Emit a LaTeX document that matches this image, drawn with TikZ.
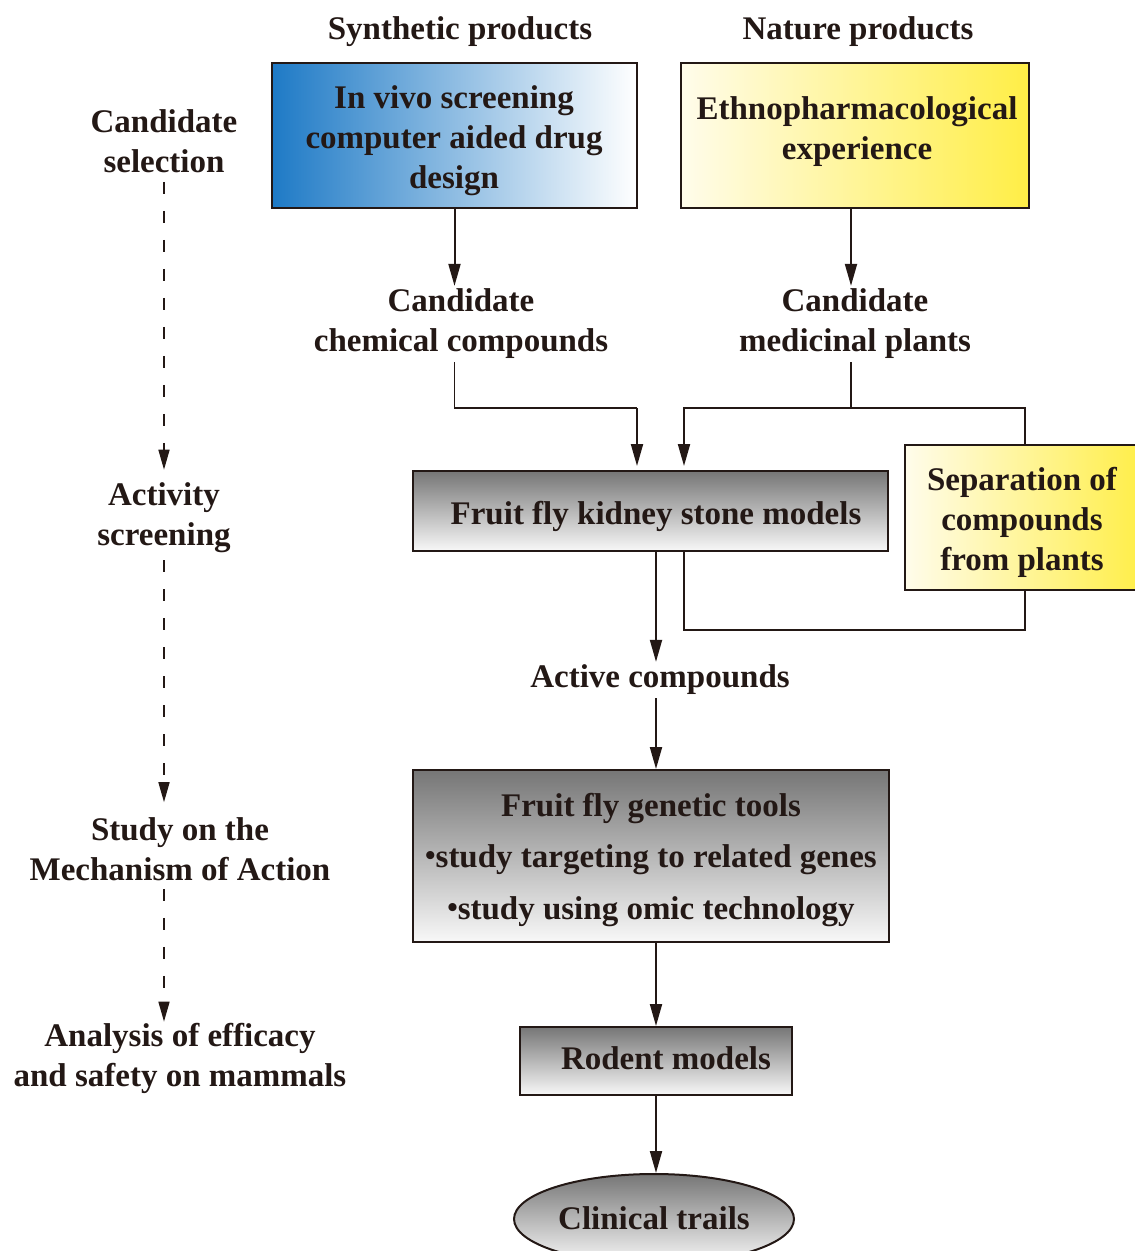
\documentclass[tikz,border=0pt]{standalone}
\usepackage{fontspec}
\setmainfont{Liberation Serif}
\usetikzlibrary{arrows.meta,shapes.geometric,calc}
\definecolor{txt}{RGB}{35,24,21}
\definecolor{bluel}{RGB}{30,122,198}
\definecolor{yell}{RGB}{255,238,70}
\definecolor{yelw}{RGB}{255,252,235}
\definecolor{grayd}{RGB}{118,118,118}
\definecolor{grayl}{RGB}{248,248,248}
\newcommand{\bul}{{\fontsize{30}{30}\selectfont\raisebox{2pt}{•}}}
\begin{document}
\begin{tikzpicture}[x=1pt,y=-1pt,
  font=\fontsize{33}{40}\selectfont\bfseries,
  lbl/.style={text=txt, align=center, inner sep=3pt},
  box/.style={draw=txt, line width=2pt, inner sep=0pt},
  bluebox/.style={box, left color=bluel, right color=white},
  yelbox/.style={box, left color=yelw, right color=yell},
  graybox/.style={box, top color=grayd, bottom color=grayl},
  arr/.style={draw=txt, line width=2pt, -{Triangle[length=22pt,width=12pt]}},
  ln/.style={draw=txt, line width=1.8pt},
  dsh/.style={draw=txt, line width=1.6pt, dash pattern=on 12pt off 17pt, -{Triangle[length=20pt,width=11pt]}}
]
\useasboundingbox (0,0) rectangle (1135,1251);

% headings
\node[lbl] (syn) at (460,32) {Synthetic products};
\node[lbl] (nat) at (858,32) {Nature products};

% top boxes
\node[bluebox, minimum width=365pt, minimum height=145pt] (invivo) at (454.5,135.5) {};
\node[lbl] (invivo-t) at (454,141) {In vivo screening\\computer aided drug\\design};
\node[yelbox, minimum width=348pt, minimum height=145pt] (ethno) at (855,135.5) {};
\node[lbl] (ethno-t) at (857,132) {Ethnopharmacological\\experience};

% candidates
\node[lbl] (cand1) at (461,324) {Candidate\\chemical compounds};
\node[lbl] (cand2) at (855,324) {Candidate\\medicinal plants};

% middle boxes
\node[graybox, minimum width=475pt, minimum height=80pt] (kidney) at (650.5,511) {};
\node[lbl] (kidney-t) at (656,516) {Fruit fly kidney stone models};
\node[yelbox, minimum width=240pt, minimum height=145pt] (sep) at (1025,517.5) {};
\node[lbl] (sep-t) at (1022,522) {Separation of\\compounds\\from plants};

\node[lbl] (active) at (660,680) {Active compounds};

\node[graybox, minimum width=476pt, minimum height=172pt] (genetic) at (651,856) {};
\node[lbl] (genetic-t) at (651,860)
  {Fruit fly genetic tools\\[11pt]\bul study targeting to related genes\\[12pt]\bul study using omic technology};

\node[graybox, minimum width=272pt, minimum height=68pt] (rodent) at (656,1061) {};
\node[lbl] (rodent-t) at (666,1058) {Rodent models};

\node[graybox, ellipse, minimum width=280pt, minimum height=90pt, inner sep=0pt] (clinical) at (654,1219) {};
\node[lbl] (clinical-t) at (654,1218) {Clinical trails};

% left stage labels
\node[lbl] (cs) at (164,141) {Candidate\\selection};
\node[lbl] (as) at (164,518) {Activity\\screening};
\node[lbl] (sm) at (180,849) {Study on the\\Mechanism of Action};
\node[lbl] (an) at (180,1058) {Analysis of efficacy\\and safety on mammals};

% helper coordinates
\coordinate (j1) at (637,408);
\coordinate (j2) at (851,408);
\coordinate (j4) at (684,408);
\coordinate (j5) at (1025,630);
\coordinate (col) at (656,0);

% connectors
\draw[arr] (invivo.south) -- (invivo.south |- cand1.north);
\draw[arr] (ethno.south -| j2) -- (j2 |- cand2.north);
\draw[ln] (invivo.south |- cand1.south) |- (j1);
\draw[arr, shorten >=4pt] (j1) -- (j1 |- kidney.north);
\draw[ln] (j2 |- cand2.south) -- (j2);
\draw[arr, shorten >=4pt] (sep.north) |- (j4) -- (j4 |- kidney.north);
\draw[ln] (kidney.south -| j4) |- (j5) -- (sep.south);
\draw[arr] (kidney.south -| col) -- (active.north -| col);
\draw[arr] (active.south -| col) -- (genetic.north -| col);
\draw[arr] (genetic.south -| col) -- (rodent.north -| col);
\draw[arr] (rodent.south -| col) -- (clinical.north -| col);

% dashed stage arrows
\draw[dsh, shorten <=6pt, shorten >=10pt] (cs.south) -- (as.north);
\draw[dsh, shorten <=4pt, shorten >=12pt] (as.south) -- (sm.north -| as);
\draw[dsh, shorten <=5pt, shorten >=-2pt] (sm.south -| as) -- (an.north -| as);
\end{tikzpicture}
\end{document}
